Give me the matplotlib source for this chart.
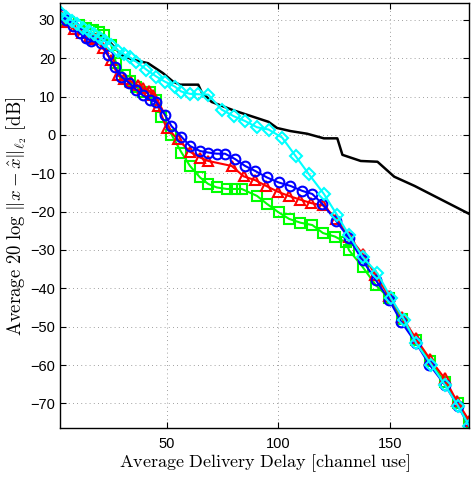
import numpy as np
import matplotlib
matplotlib.use("Agg")
import matplotlib.pyplot as plt

# reading of the curves (x = average delivery delay, y = dB)
blackX = [2.5, 7, 12.3, 16, 19.8, 24.3, 29.6, 34.8, 41.6, 48.3, 52.8, 55.9, 64.1, 65.6, 70.1, 79.9,
          90.4, 95.6, 99.4, 105.4, 112.9, 120.4, 126.4, 128.7, 136.9, 144.4, 151.9, 161, 185.5]
blackY = [30.8, 28.5, 26.9, 26.3, 26.0, 24.3, 20.9, 19.6, 18.7, 16.1, 13.9, 13.1, 13.1, 11.2, 8.6, 6.4,
          4.4, 3.4, 1.8, 1.0, 0.3, -0.9, -0.9, -5.2, -6.8, -7.0, -10.9, -13.3, -20.6]

greenX = [2.5, 6, 10.8, 14, 16.8, 19.5, 22.1, 25.1, 27.3, 31.1, 33.5, 36.3, 39.3, 42.3, 45.4, 47.6,
          52.1, 56.6, 60.4, 64.9, 68.6, 72.4, 76.9, 80.6, 83.6, 90.4, 94.9, 100.1, 104.8, 109.9,
          115.2, 120, 125.3, 130.2, 131.7, 137.7, 143.7, 149.5, 155.5, 161.5, 168, 174.5, 180.5, 185.5]
greenY = [30, 29.5, 28.6, 28, 27.3, 26.8, 26.0, 23.4, 18.7, 15.7, 14, 12.6, 11.3, 11.3, 9.2, 4.6,
          0.1, -4.6, -8.1, -11.1, -12.8, -13.7, -14.1, -14.1, -14.1, -15.9, -18.0, -20.2, -21.9, -22.9,
          -23.5, -25.6, -26.5, -28.0, -30.1, -34.4, -39.2, -42.5, -48, -53.5, -59, -64.5, -70, -75]

redX = [2.5, 5.5, 8.5, 12, 15, 18, 21.3, 25, 28.1, 31, 34.1, 37, 39.3, 42, 44, 46.1, 49.9, 55.1,
        60.4, 64.9, 68.6, 79.1, 84.4, 89.6, 94.5, 99.7, 104.6, 109.9, 114.8, 120, 126, 131.5,
        137.7, 143.5, 149.5, 155.5, 161.5, 168, 174.5, 180, 185.5]
redY = [31, 29.5, 27.5, 26.5, 25.5, 25, 22.6, 19.6, 15.5, 14.5, 13.9, 13, 12.2, 11.5, 10.5, 7.5, 1.8, -1.2,
        -4.4, -5.9, -6.8, -8.1, -10.8, -11.8, -13.3, -14.8, -15.9, -16.9, -17.8, -18.4, -21.8, -26.5,
        -31.0, -36.5, -42, -47.5, -53, -58.5, -63.5, -69.5, -74.5]

blueX = [2.5, 5, 8, 11, 13.8, 16.1, 20.6, 23.6, 26.6, 29.6, 33.3, 36.3, 39.3, 42.3, 45.4, 49.1,
         52.1, 56.6, 60.4, 64.9, 68.6, 72.4, 76.1, 80.6, 85.1, 89.6, 94.9, 100.1, 105.4, 110.7,
         115.2, 119.7, 126, 131.7, 137.7, 143.7, 149.7, 155, 161.7, 167.7, 174.5, 180.5, 185.5]
blueY = [31.5, 30, 28.5, 26.5, 25.2, 24.5, 23.9, 20.9, 17.8, 15.2, 13.5, 11.8, 10.3, 9.2, 8.6, 5.3,
         2.3, -0.5, -2.9, -4.2, -4.6, -4.9, -4.9, -6.3, -8.1, -9.4, -11.1, -12.4, -13.3, -14.6,
         -15.4, -18.0, -22.5, -27.0, -32.7, -37.9, -43.1, -48.7, -54.3, -59.9, -65.1, -70.7, -76.0]

cyanX = [2.7, 5, 7.5, 10, 12.5, 15, 17.5, 20, 22.5, 25, 28, 31, 33.5, 36.3, 40.9, 45.4, 49.1, 53.6,
         56.5, 60.4, 64.1, 68.6, 74.6, 79.9, 85.1, 90.4, 95.6, 101.7, 107.7, 113.6, 120.4, 126.4,
         131.7, 137.7, 144.4, 150.5, 156.4, 161.7, 168.5, 174.5, 180.5, 185.5]
cyanY = [31.8, 30.8, 29.8, 28.8, 27.8, 27, 26.2, 25.3, 24.4, 23.5, 22, 21, 20.2, 19.1, 17, 15.2, 13.9, 12.6,
         11.3, 10.7, 10.6, 10.5, 6.6, 4.9, 3.6, 2.0, 1.4, -0.7, -5.5, -10.2, -15.4, -21.0,
         -26.2, -31.8, -36.1, -42.6, -48.2, -54.3, -59.9, -65.1, -70.7, -75.9]

xTicks = [50, 100, 150]
yTicks = [-70, -60, -50, -40, -30, -20, -10, 0, 10, 20, 30]

plt.rcParams['font.family'] = ['Liberation Sans', 'DejaVu Sans']
plt.rcParams['mathtext.fontset'] = 'cm'

fig = plt.figure(figsize=(4.73, 4.78), dpi=100)
ax = fig.add_axes([0.127, 0.104, 0.865, 0.889])

ax.plot(blackX, blackY, color='black', lw=1.8)
ax.plot(greenX, greenY, color=(0, 1, 0), lw=1.5, marker='s', ms=6.5, mfc='none', mew=1.5)
ax.plot(redX, redY, color=(1, 0, 0), lw=1.5, marker='^', ms=6.5, mfc='none', mew=1.5)
ax.plot(blueX, blueY, color=(0, 0, 1), lw=1.5, marker='o', ms=7, mfc='none', mew=1.5)
ax.plot(cyanX, cyanY, color=(0, 1, 1), lw=1.5, marker='D', ms=6, mfc='none', mew=1.5)

ax.set_xlim(2.2, 185.5)
ax.set_ylim(-76.5, 34.3)
ax.set_xticks(xTicks)
ax.set_yticks(yTicks)
ax.tick_params(direction='in', top=True, right=True, labelsize=10.5, length=4)
ax.tick_params(axis='x', pad=6)
ax.grid(True, linestyle=(0, (1, 4)), color='gray', lw=0.6)
for s in ax.spines.values():
    s.set_linewidth(1)

ax.set_xlabel(r'$\mathrm{Average\ Delivery\ Delay\ [channel\ use]}$', fontsize=13, labelpad=1)
ax.set_ylabel(r'$\mathrm{Average}\ 20\ \log\,\|x-\hat{x}\|_{\ell_2}\ \mathrm{[dB]}$', fontsize=13.5, labelpad=1)

plt.savefig('out.png', dpi=100)
